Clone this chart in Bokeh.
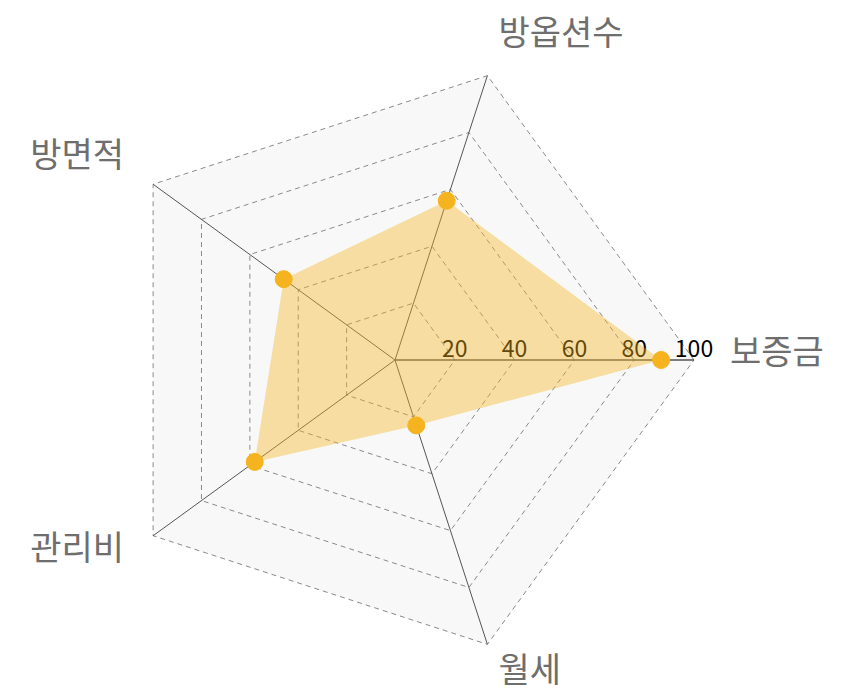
import numpy as np
from bokeh.plotting import figure
from bokeh.models import Range1d, ColumnDataSource
from bokeh.core.properties import value
from bokeh.embed import file_html
from bokeh.resources import INLINE

# ---- data ----
categories = ["보증금", "방옵션수", "방면적", "관리비", "월세"]
values = [89, 56, 46, 58, 23]
ticks = [20, 40, 60, 80, 100]
tick_labels = ["20", "40", "60", "80", "100"]
max_val = 100

# ---- geometry (pixel scale) ----
W, H = 847, 694
cx_px, cy_px = 394.5, 359.5   # centre in figure pixels
scale = 2.99                  # px per unit
x0 = (0 - cx_px) / scale
x1 = (W - cx_px) / scale
y_top = (cy_px - 0) / scale
y_bot = (cy_px - H) / scale

p = figure(width=W, height=H, output_backend="svg", toolbar_location=None,
           x_range=Range1d(x0, x1), y_range=Range1d(y_bot, y_top),
           min_border=0, background_fill_color="white")
p.axis.visible = False
p.grid.visible = False
p.outline_line_color = None

n = len(categories)
ang = np.deg2rad(np.arange(n) * 360.0 / n)
cosA, sinA = np.cos(ang), np.sin(ang)

# outer background
p.patch(list(max_val * cosA), list(max_val * sinA), fill_color="#f8f8f8",
        line_color=None)

# rings
for t in ticks:
    xs = list(t * cosA) + [t * cosA[0]]
    ys = list(t * sinA) + [t * sinA[0]]
    p.line(xs, ys, line_color="#8a8a8a", line_width=1, line_dash="5 4")

# axis lines
for i in range(n):
    p.line([0, max_val * cosA[i]], [0, max_val * sinA[i]],
           line_color="#555555", line_width=1.6 if i == 0 else 1)

# tick labels along first axis
p.text(x=[t * cosA[0] for t in ticks], y=[t * sinA[0] for t in ticks],
       text=tick_labels, text_align="center", text_baseline="bottom",
       y_offset=-3, text_font=value("Noto Sans CJK KR"), text_font_size="23px",
       text_color="#000000")

# data polygon
vx = [v * c for v, c in zip(values, cosA)]
vy = [v * s for v, s in zip(values, sinA)]
p.patch(vx, vy, fill_color="#f5b41f", fill_alpha=0.4, line_color=None)
p.scatter(vx, vy, size=17, fill_color="#f5b41f", line_color="#f5b41f")

# category labels
R = 335 / scale
aligns = []
for c in cosA:
    if c > 0.05:
        aligns.append("left")
    elif c < -0.05:
        aligns.append("right")
    else:
        aligns.append("center")
src = ColumnDataSource(dict(x=list(R * cosA), y=list(R * sinA),
                            t=categories, a=aligns))
p.text(x="x", y="y", text="t", text_align="a", text_baseline="middle",
       y_offset=-11, source=src, text_font=value("Noto Sans CJK KR"),
       text_font_size="34px", text_color="#6e6e6e")

open("out.html", "w").write(file_html(p, INLINE))
